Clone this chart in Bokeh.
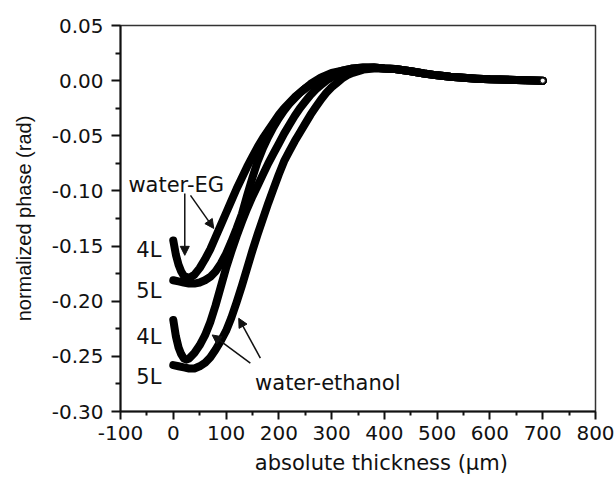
from bokeh.plotting import figure
from bokeh.models import Range1d, FixedTicker, PrintfTickFormatter, Label, Arrow, NormalHead
from bokeh.embed import file_html
from bokeh.resources import INLINE

# ---------------- data ----------------
tail_x = [420, 450, 475, 500, 525, 550, 575, 600, 650, 700]
tail_y = [0.0105, 0.0085, 0.0065, 0.0048, 0.0035, 0.0026, 0.0018, 0.0012, 0.0006, 0.0000]

eg4_x = [0, 5, 10, 15, 20, 30, 40, 50, 60, 70, 80, 90, 100, 110, 120, 130, 140, 150, 160,
         170, 180, 190, 200, 210, 220, 230, 240, 250, 260, 270, 280, 290, 300, 320, 340, 360, 380, 400]
eg4_y = [-0.145, -0.158, -0.167, -0.173, -0.177, -0.179, -0.176, -0.170, -0.162, -0.153, -0.142,
         -0.131, -0.120, -0.109, -0.098, -0.088, -0.078, -0.069, -0.060, -0.052, -0.045, -0.038,
         -0.031, -0.025, -0.020, -0.015, -0.011, -0.007, -0.004, -0.001, 0.002, 0.004, 0.006,
         0.009, 0.011, 0.012, 0.012, 0.011]

eg5_x = [0, 10, 20, 30, 40, 50, 60, 70, 80, 90, 100, 110, 120, 130, 140, 150, 160, 170, 180,
         190, 200, 210, 220, 230, 240, 250, 260, 270, 280, 290, 300, 320, 340, 360, 380, 400]
eg5_y = [-0.181, -0.182, -0.183, -0.184, -0.184, -0.183, -0.181, -0.178, -0.173, -0.166, -0.157,
         -0.146, -0.134, -0.121, -0.104, -0.088, -0.073, -0.061, -0.051, -0.042, -0.034, -0.027,
         -0.021, -0.016, -0.011, -0.007, -0.003, 0.000, 0.003, 0.005, 0.007, 0.009, 0.011, 0.012,
         0.012, 0.011]

et4_x = [0, 5, 10, 15, 20, 25, 30, 40, 50, 60, 70, 80, 90, 100, 110, 120, 130, 140, 150, 160,
         170, 180, 190, 200, 210, 220, 230, 240, 250, 260, 270, 280, 290, 300, 320, 340, 360, 380, 400]
et4_y = [-0.217, -0.232, -0.242, -0.248, -0.252, -0.253, -0.252, -0.247, -0.240, -0.231, -0.219,
         -0.204, -0.187, -0.170, -0.155, -0.141, -0.128, -0.116, -0.105, -0.095, -0.085, -0.075,
         -0.066, -0.057, -0.048, -0.040, -0.032, -0.025, -0.019, -0.013, -0.008, -0.004, 0.000,
         0.003, 0.007, 0.010, 0.011, 0.012, 0.011]

et5_x = [0, 10, 20, 30, 40, 50, 60, 70, 80, 90, 100, 110, 120, 130, 140, 150, 160, 170, 180,
         190, 200, 210, 220, 230, 240, 250, 260, 270, 280, 290, 300, 310, 320, 330, 340, 360, 380, 400]
et5_y = [-0.258, -0.259, -0.260, -0.261, -0.261, -0.259, -0.256, -0.251, -0.244, -0.236, -0.227,
         -0.215, -0.201, -0.186, -0.170, -0.154, -0.139, -0.125, -0.111, -0.098, -0.085, -0.073,
         -0.064, -0.055, -0.047, -0.039, -0.031, -0.024, -0.017, -0.011, -0.006, -0.002, 0.002,
         0.005, 0.007, 0.010, 0.011, 0.011]

x_ticks = [-100, 0, 100, 200, 300, 400, 500, 600, 700, 800]
y_ticks = [-0.30, -0.25, -0.20, -0.15, -0.10, -0.05, 0.00, 0.05]

# ---------------- figure ----------------
p = figure(width=615, height=477, output_backend="svg", toolbar_location=None,
           x_range=Range1d(-100, 800), y_range=Range1d(-0.30, 0.05),
           min_border_left=120, min_border_right=20, min_border_top=25, min_border_bottom=65)
p.background_fill_color = "white"
p.border_fill_color = "white"
p.grid.visible = False
p.outline_line_color = "#333333"
p.outline_line_width = 1.5

TICK_FONT = "DejaVu Sans"
for ax in (p.xaxis[0], p.yaxis[0]):
    ax.axis_line_width = 2
    ax.axis_line_color = "#111111"
    ax.major_tick_line_width = 2
    ax.minor_tick_line_width = 2
    ax.major_tick_line_color = "#111111"
    ax.minor_tick_line_color = "#111111"
    ax.major_tick_in = 0
    ax.minor_tick_in = 0
    ax.major_label_text_font = TICK_FONT
    ax.major_label_text_font_size = "20px"
    ax.major_label_text_color = "#111111"
    ax.axis_label_text_font_style = "normal"
    ax.axis_label_text_color = "#111111"

p.xaxis[0].ticker = FixedTicker(ticks=x_ticks, minor_ticks=[t + 50 for t in x_ticks[:-1]])
p.yaxis[0].ticker = FixedTicker(ticks=y_ticks, minor_ticks=[t + 0.025 for t in y_ticks[:-1]])
p.xaxis[0].formatter = PrintfTickFormatter(format="%d")
p.yaxis[0].formatter = PrintfTickFormatter(format="%.2f")
p.xaxis[0].major_tick_out = 8
p.xaxis[0].minor_tick_out = 4
p.yaxis[0].major_tick_out = 9
p.yaxis[0].minor_tick_out = 5
p.xaxis[0].major_label_standoff = 6
p.yaxis[0].major_label_standoff = 8

# x-axis title: the original sits a little right of centre, leading spaces reproduce that
p.xaxis[0].axis_label = "\u00a0" * 7 + "absolute thickness (\u03bcm)"
p.xaxis[0].axis_label_text_font = TICK_FONT
p.xaxis[0].axis_label_text_font_size = "21px"
p.xaxis[0].axis_label_standoff = 8

p.yaxis[0].axis_label = "normalized phase (rad)"
p.yaxis[0].axis_label_text_font = "Liberation Sans"
p.yaxis[0].axis_label_text_font_size = "20px"
p.yaxis[0].axis_label_standoff = 14

LW = 8
for xs, ys in ((eg4_x, eg4_y), (eg5_x, eg5_y), (et4_x, et4_y), (et5_x, et5_y)):
    p.line(xs + tail_x, ys + tail_y, line_color="black", line_width=LW,
           line_cap="round", line_join="round")

p.scatter(x=[tail_x[-1]], y=[tail_y[-1]], size=5, fill_color="white",
          line_color="#222222", line_width=1)

# ---------------- annotations ----------------
def lab(x, y, t):
    p.add_layout(Label(x=x, y=y, text=t, text_font=TICK_FONT, text_font_size="21px",
                       text_color="#111111", text_baseline="alphabetic"))

lab(-85, -0.0949, "water-EG")
lab(-70, -0.1537, "4L")
lab(-70, -0.1905, "5L")
lab(-70, -0.2324, "4L")
lab(-70, -0.2690, "5L")
lab(155, -0.2741, "water-ethanol")

def arr(x0, y0, x1, y1):
    p.add_layout(Arrow(x_start=x0, y_start=y0, x_end=x1, y_end=y1, line_width=1.5,
                       line_color="#111111",
                       end=NormalHead(size=9, fill_color="#111111", line_color="#111111",
                                      line_width=1)))

arr(21.8, -0.1023, 21.8, -0.1584)
arr(32.6, -0.1040, 76.7, -0.1340)
arr(146, -0.2562, 73.7, -0.2306)
arr(165, -0.2516, 124, -0.2155)

open("out.html", "w").write(file_html(p, INLINE))
